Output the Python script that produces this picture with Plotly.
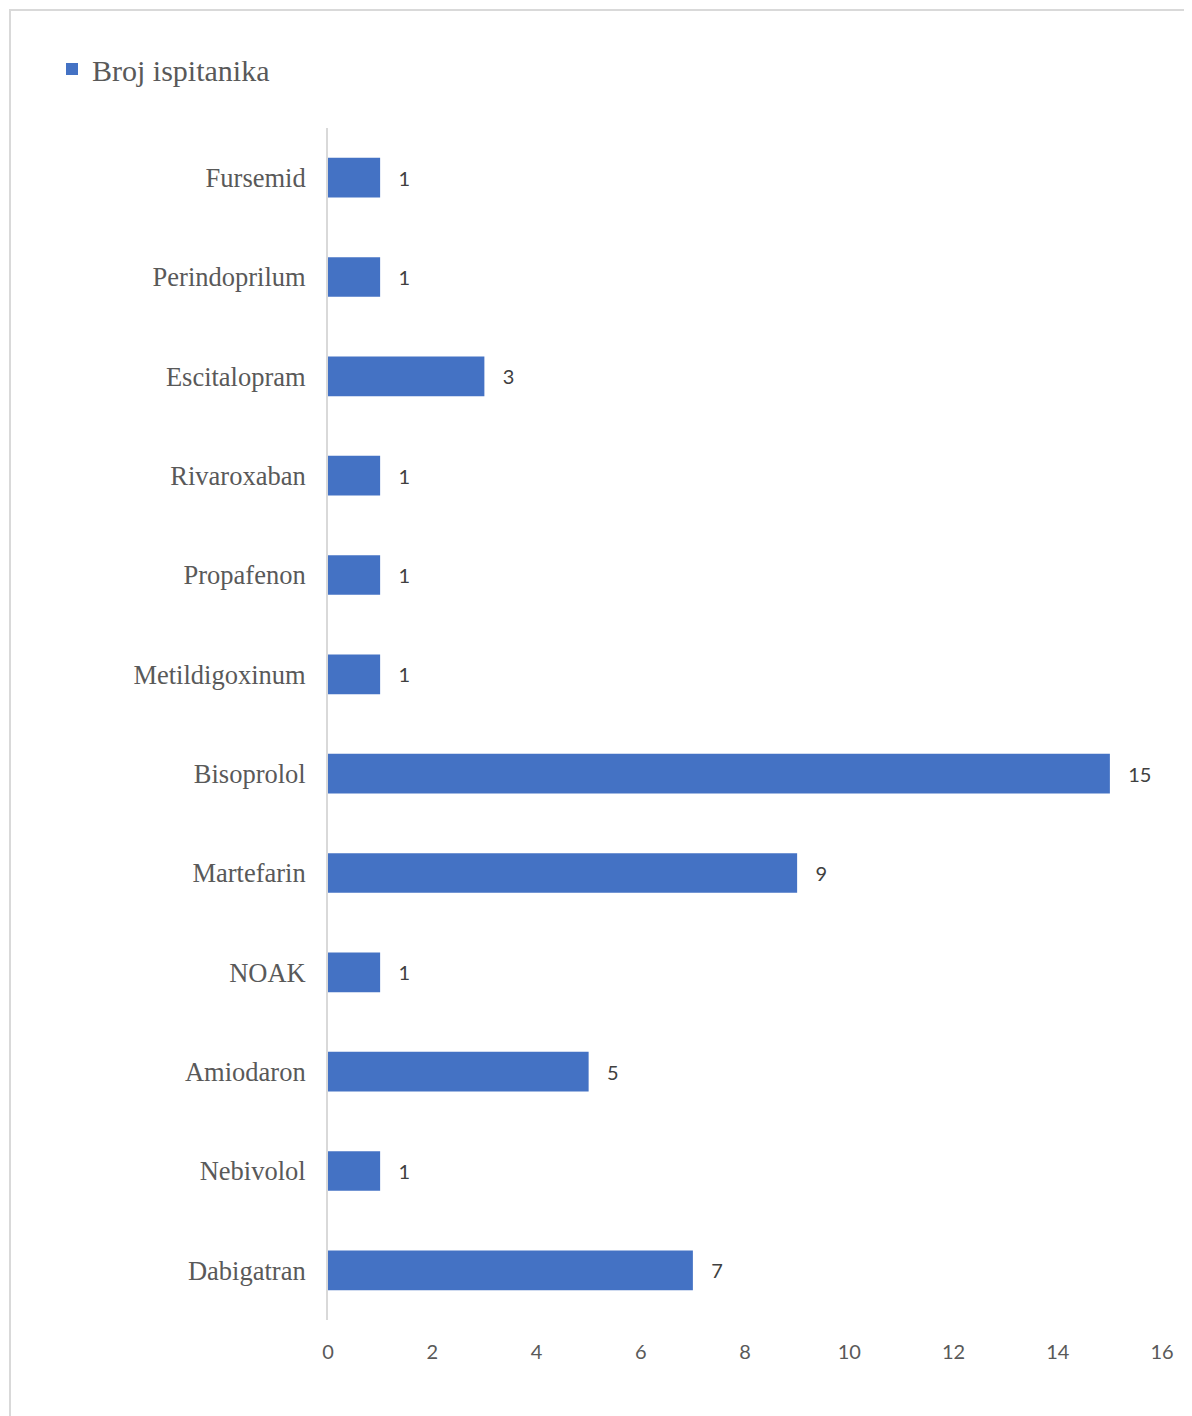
import plotly.graph_objects as go

# kategorije (odozdo prema gore, kao u Excelu)
lijekovi = ["Dabigatran", "Nebivolol", "Amiodaron", "NOAK", "Martefarin", "Bisoprolol",
            "Metildigoxinum", "Propafenon", "Rivaroxaban", "Escitalopram", "Perindoprilum", "Fursemid"]
broj_ispitanika = [7, 1, 5, 1, 9, 15, 1, 1, 1, 3, 1, 1]
x_ticks = [0, 2, 4, 6, 8, 10, 12, 14, 16]

SERIF = "Liberation Serif, Times New Roman, serif"
SANS = "Lato, Carlito, Calibri, sans-serif"
GRAY = "#595959"

# plot area u pikselima figure (stranica ima 8px margine)
L, T, PW, PH = 320, 120, 834, 1192

fig = go.Figure()
fig.add_trace(
    go.Bar(
        x=broj_ispitanika,
        y=lijekovi,
        orientation="h",
        name="Broj ispitanika",
        marker=dict(color="#4472C4", line=dict(width=0)),
        text=broj_ispitanika,
        texttemplate="   %{x}",
        textposition="outside",
        textfont=dict(family=SANS, size=20, color="#404040"),
        cliponaxis=False,
    )
)

# okvir grafikona
fig.add_shape(type="rect", xref="paper", yref="paper",
              x0=(2 - L) / PW, x1=(1186 - L) / PW,
              y0=(T + PH - 1412) / PH, y1=(T + PH - 2) / PH,
              line=dict(color="#D9D9D9", width=2), layer="below")

fig.update_layout(
    width=1192,
    height=1416,
    margin=dict(l=L, r=1192 - L - PW, t=T, b=1416 - T - PH),
    plot_bgcolor="white",
    paper_bgcolor="white",
    bargap=0.6,
    showlegend=True,
    legend=dict(
        x=(44 - L) / PW, y=(T + PH - 61) / PH,
        xanchor="left", yanchor="middle",
        font=dict(family=SERIF, size=30, color=GRAY),
        itemwidth=30,
        bgcolor="rgba(0,0,0,0)",
    ),
)
fig.update_xaxes(
    range=[0, 16],
    tickvals=x_ticks,
    showgrid=False,
    zeroline=False,
    showline=False,
    tickfont=dict(family=SANS, size=20, color=GRAY),
    ticklabelstandoff=18,
)
fig.update_yaxes(
    showgrid=False,
    showline=True,
    linecolor="#D9D9D9",
    linewidth=2,
    tickfont=dict(family=SERIF, size=26.5, color=GRAY),
    ticklabelstandoff=15,
)

fig.write_html("out.html")
